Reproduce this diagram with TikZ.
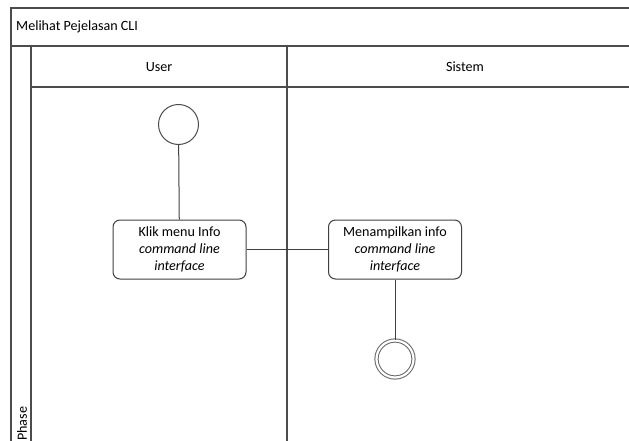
\documentclass[tikz,border=0pt]{standalone}
\usepackage{fontspec}
\setmainfont{Carlito}
\begin{document}
\begin{tikzpicture}[x=1pt,y=-1pt,
  frameline/.style={draw=black!70,line width=1.2pt},
  flow/.style={draw=black!75,line width=1pt},
  actbox/.style={draw=black!75,line width=1pt,rounded corners=7pt,fill=white,
    minimum width=133pt,minimum height=59pt,align=center,inner sep=2pt,
    font=\fontsize{14.1}{16.7}\selectfont},
  startnode/.style={circle,draw=black!70,line width=1pt,fill=white,minimum size=40pt,inner sep=0pt},
  endnode/.style={circle,double=white,double distance=2.2pt,draw=black!60,line width=1pt,fill=white,minimum size=37pt,inner sep=0pt},
  lbl/.style={font=\fontsize{14.1}{16}\selectfont,inner sep=0pt}]
\useasboundingbox (0,0) rectangle (629,441);
% swimlane frame
\draw[frameline] (11,441) -- (11,8) -- (629,8);
\draw[frameline] (11,46) -- (629,46);
\draw[frameline] (31,87) -- (629,87);
\draw[frameline] (31,46) -- (31,441);
\draw[frameline] (287,46) -- (287,441);
% headings
\node[lbl,anchor=west] (title) at (16,27) {Melihat Pejelasan CLI};
\node[lbl] (laneuser) at (159,67) {User};
\node[lbl] (lanesys) at (465,67) {Sistem};
\node[lbl,rotate=90,anchor=west] (phase) at (22,441) {Phase};
% activity flow
\node[startnode] (start) at (178.5,124.5) {};
\node[actbox] (klik) at (179.5,249.5) {Klik menu Info\\\textit{command line}\\\textit{interface}};
\node[actbox] (tampil) at (395,249.5) {Menampilkan info\\\textit{command line}\\\textit{interface}};
\node[endnode] (end) at (395,359) {};
\draw[flow] (start) -- (klik);
\draw[flow] (klik) -- (tampil);
\draw[flow] (tampil) -- (end);
\end{tikzpicture}
\end{document}
